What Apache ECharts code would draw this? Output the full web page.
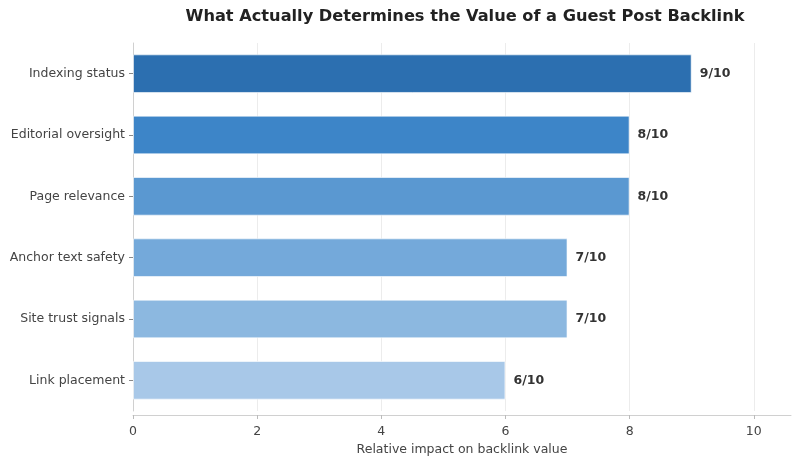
<!DOCTYPE html>
<html>
<head>
<meta charset="utf-8">
<script src="https://cdn.jsdelivr.net/npm/echarts@6/dist/echarts.min.js"></script>
<style>
  html, body { margin: 0; padding: 0; background: #fff; }
  #chart { width: 800px; height: 463px; }
</style>
</head>
<body>
<div id="chart"></div>
<script>
// data
var categories = ['Indexing status', 'Editorial oversight', 'Page relevance', 'Anchor text safety', 'Site trust signals', 'Link placement'];
var scores = [9, 8, 8, 7, 7, 6];
var barColors = ['#2c6fb0', '#3d85c8', '#5a98d1', '#74a9da', '#8cb8e0', '#a8c8e8'];
var xTicks = [0, 2, 4, 6, 8, 10];

var chart = echarts.init(document.getElementById('chart'));

var seriesData = [];
for (var i = 0; i < scores.length; i++) {
  seriesData.push({ value: scores[i], itemStyle: { color: barColors[i] } });
}

var option = {
  animation: false,
  textStyle: { fontFamily: 'DejaVu Sans' },
  title: {
    text: 'What Actually Determines the Value of a Guest Post Backlink',
    left: 460,
    textAlign: 'center',
    top: 4,
    textStyle: { fontSize: 16.2, fontWeight: 'bold', color: '#222', fontFamily: 'DejaVu Sans' }
  },
  grid: { left: 133, right: 9, top: 43, bottom: 52, containLabel: false },
  xAxis: {
    type: 'value',
    min: 0,
    max: 10.6,
    interval: 2,
    offset: 4,
    name: 'Relative impact on backlink value',
    nameLocation: 'middle',
    nameGap: 28,
    nameTextStyle: { fontSize: 12.5, color: '#444' },
    axisLine: { show: true, lineStyle: { color: '#d0d0d0', width: 1 } },
    axisTick: { show: true, length: 4, lineStyle: { color: '#bbb' }, customValues: xTicks },
    axisLabel: { fontSize: 12.5, color: '#444', margin: 10, customValues: xTicks },
    splitLine: { show: true, lineStyle: { color: '#ececec', width: 1 } }
  },
  yAxis: {
    type: 'category',
    inverse: true,
    data: categories,
    axisLine: { show: true, lineStyle: { color: '#d0d0d0', width: 1 } },
    axisTick: { show: true, alignWithLabel: true, length: 4, lineStyle: { color: '#888' } },
    axisLabel: { fontSize: 12.5, color: '#444', margin: 8 },
    splitLine: { show: false }
  },
  series: [{
    type: 'bar',
    data: seriesData,
    barWidth: '63%',
    itemStyle: { borderColor: 'rgba(255,255,255,0.6)', borderWidth: 1 },
    label: {
      show: true,
      position: 'right',
      distance: 8,
      formatter: function (p) { return p.value + '/10'; },
      fontSize: 12.5,
      fontWeight: 'bold',
      color: '#333'
    }
  }]
};

chart.setOption(option);
window.onresize = function () { chart.resize(); };
</script>
</body>
</html>
